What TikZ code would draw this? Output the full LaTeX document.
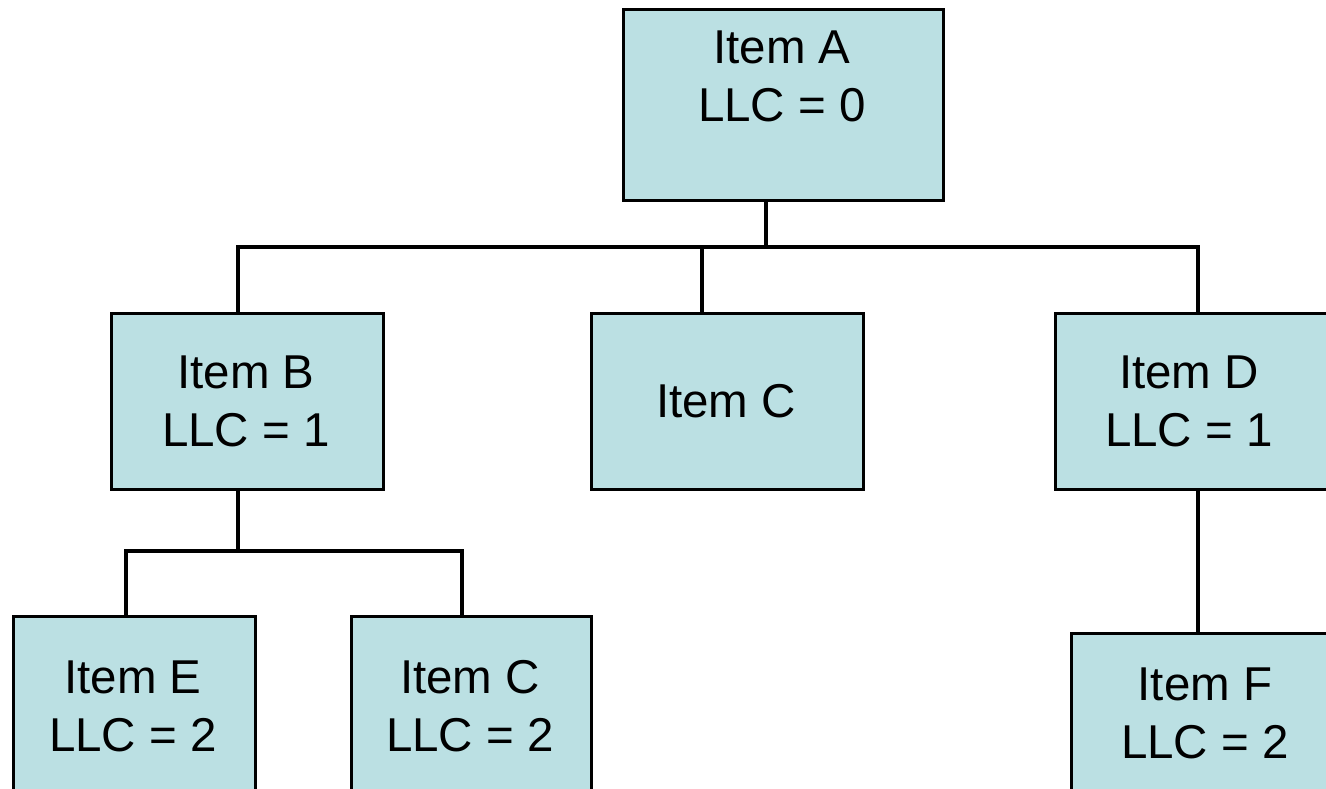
\documentclass[tikz,border=0pt]{standalone}
\usepackage{fontspec}
\setmainfont{Liberation Sans}
\definecolor{boxfill}{RGB}{187,224,227}
\tikzset{
  box/.style={draw=black, fill=boxfill, line width=3.3pt, anchor=north west, inner sep=0pt},
  lbl/.style={align=center, inner sep=0pt, font=\fontsize{47.5}{58}\selectfont},
  wire/.style={draw=black, line width=3.3pt, line join=miter}
}
\begin{document}
\begin{tikzpicture}[x=1pt, y=-1pt]
\useasboundingbox (0,0) rectangle (1326,789);
\clip (0,0) rectangle (1326,789);

% boxes
\node[box, minimum width=320pt, minimum height=191pt] (A) at (622,8) {};
\node[box, minimum width=272pt, minimum height=176pt] (B) at (110,312) {};
\node[box, minimum width=272pt, minimum height=176pt] (C) at (590,312) {};
\node[box, minimum width=272pt, minimum height=176pt] (D) at (1054,312) {};
\node[box, minimum width=242pt, minimum height=184pt] (E) at (12,615) {};
\node[box, minimum width=240pt, minimum height=184pt] (C2) at (350,615) {};
\node[box, minimum width=270pt, minimum height=184pt] (F) at (1070,632) {};

% junction points of the connectors
\coordinate (jA) at (766,247);
\coordinate (jB) at (238,247);
\coordinate (jC) at (702,247);
\coordinate (jD) at (1198,247);
\coordinate (kB) at (238,551);
\coordinate (kE) at (126,551);
\coordinate (kC) at (462,551);

% level 0 -> level 1
\draw[wire] (A.south -| jA) -- (jA);
\draw[wire] (B.north -| jB) -- (jB) -- (jD) -- (D.north -| jD);
\draw[wire] (jC) -- (C.north -| jC);

% B -> E, C
\draw[wire] (B.south -| kB) -- (kB);
\draw[wire] (E.north -| kE) -- (kE) -- (kC) -- (C2.north -| kC);

% D -> F
\draw[wire] (D.south -| jD) -- (F.north -| jD);

% labels
\node[lbl] (tA) at (782,76) {Item A\\LLC = 0};
\node[lbl] (tB) at (246,401.5) {Item B\\LLC = 1};
\node[lbl] (tC) at (726,401) {Item C};
\node[lbl] (tD) at (1189,401.5) {Item D\\LLC = 1};
\node[lbl] (tE) at (133,706) {Item E\\LLC = 2};
\node[lbl] (tC2) at (470,706) {Item C\\LLC = 2};
\node[lbl] (tF) at (1205,713) {Item F\\LLC = 2};
\end{tikzpicture}
\end{document}
